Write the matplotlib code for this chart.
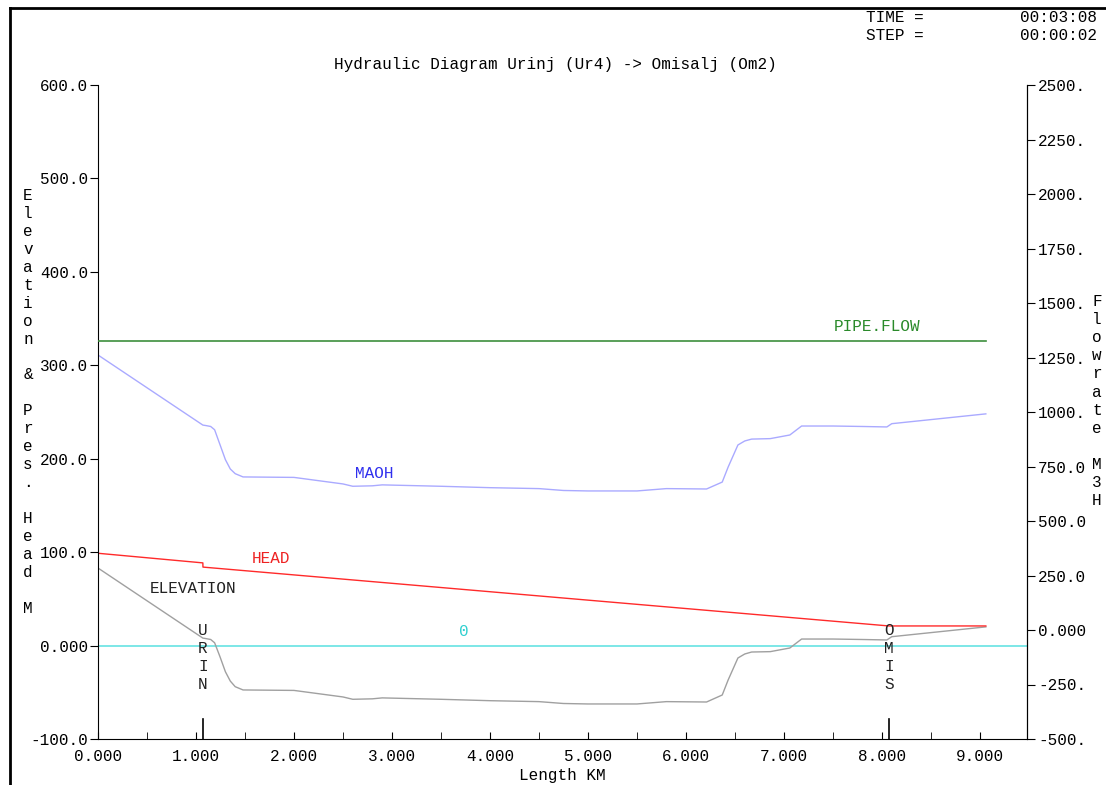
import matplotlib.pyplot as plt
from matplotlib.lines import Line2D

plt.rcParams['font.family'] = ['Liberation Mono', 'DejaVu Sans Mono']

# distance along the pipeline, km
elev_km = [0.0, 1.07, 1.1, 1.15, 1.19, 1.245, 1.30, 1.35, 1.40, 1.48, 2.0, 2.5, 2.6,
           2.8, 2.9, 3.5, 4.0, 4.5, 4.75, 5.0, 5.5, 5.8, 6.21, 6.37, 6.43, 6.53, 6.60,
           6.67, 6.86, 7.06, 7.18, 7.5, 7.8, 8.05, 8.1, 9.06]
elevation = [83, 8, 7.5, 6.5, 3, -12, -28, -38, -44, -47.5, -48, -55, -57.5,
             -57, -56, -57.5, -59, -60, -62, -62.5, -62.5, -60, -60.4, -52.9, -36.9,
             -13.3, -9, -6.9, -6.5, -2.6, 7, 7, 6.5, 6, 9.5, 20]

maoh_km = [0.0, 1.07, 1.1, 1.15, 1.19, 1.245, 1.30, 1.35, 1.40, 1.48, 2.0, 2.5, 2.6,
           2.8, 2.9, 3.5, 4.0, 4.5, 4.75, 5.0, 5.5, 5.8, 6.21, 6.37, 6.43, 6.53, 6.60,
           6.67, 6.86, 7.06, 7.18, 7.5, 7.8, 8.05, 8.1, 9.06]
maoh = [311, 236, 235.5, 234.5, 231, 215, 199, 189, 184, 180.5, 180, 173, 170.5,
        171, 172, 170.5, 169, 168, 166, 165.5, 165.5, 168, 167.6, 175, 191,
        214.7, 219, 221, 221.5, 225.4, 235, 235, 234.5, 234, 237.5, 248]

head_km = [0.0, 1.07, 1.071, 8.07, 9.06]
head = [98.8, 88.5, 84, 21, 21]

flow_km = [0.0, 9.06]
pipe_flow = [1325, 1325]

left_ticks = [600, 500, 400, 300, 200, 100, 0, -100]
left_labels = ['600.0', '500.0', '400.0', '300.0', '200.0', '100.0', '0.000', '-100.0']
right_ticks = [2500, 2250, 2000, 1750, 1500, 1250, 1000, 750, 500, 250, 0, -250, -500]
right_labels = ['2500.', '2250.', '2000.', '1750.', '1500.', '1250.', '1000.', '750.0',
                '500.0', '250.0', '0.000', '-250.', '-500.']
x_ticks = [0, 1, 2, 3, 4, 5, 6, 7, 8, 9]
x_labels = ['0.000', '1.000', '2.000', '3.000', '4.000', '5.000', '6.000', '7.000',
            '8.000', '9.000']

stations = [1.07, 8.07]
station_names = ['URIN', 'OMIS']

fs = 11.5
fig = plt.figure(figsize=(11.06, 7.85), dpi=100)
ax = fig.add_axes([98 / 1106, 1 - 739 / 785, (1027 - 98) / 1106, (739 - 85) / 785])
ax2 = ax.twinx()

ax.set_xlim(0, 9.48)
ax.set_ylim(-100, 600)
ax2.set_ylim(-500, 2500)

ax.axhline(0, color='#66e3e3', lw=1.2)
ax.plot(elev_km, elevation, color='#a0a0a0', lw=1)
ax.plot(maoh_km, maoh, color='#aaaaff', lw=1)
ax.plot(head_km, head, color='#ff2a2a', lw=1)
ax2.plot(flow_km, pipe_flow, color='#3d8f3d', lw=1.2)

# station markers
for km, name in zip(stations, station_names):
    ax.plot([km, km], [-100, -78.5], color='black', lw=1.2)
    ax.text(km, 24.5, '\n'.join(name), ha='center', va='top', fontsize=fs,
            linespacing=1.26, color='#222222')

ax.text(0.97, 61, 'ELEVATION', ha='center', va='center', fontsize=fs, color='#222222')
ax.text(1.77, 93, 'HEAD', ha='center', va='center', fontsize=fs, color='#ee2222')
ax.text(2.82, 184, 'MAOH', ha='center', va='center', fontsize=fs, color='#3030ee')
ax.text(3.73, 15, '0', ha='center', va='center', fontsize=fs, color='#30d0d0')
ax2.text(7.95, 1390, 'PIPE.FLOW', ha='center', va='center', fontsize=fs, color='#2a8a2a')

ax.set_xticks(x_ticks)
ax.set_xticklabels(x_labels, fontsize=fs)
ax.set_xticks([0.5 + i for i in range(9)], minor=True)
ax.tick_params(axis='x', which='both', direction='in', length=5, pad=7)
ax.set_yticks(left_ticks)
ax.set_yticklabels(left_labels, fontsize=fs)
ax.tick_params(axis='y', direction='out', length=6, pad=1)
ax2.set_yticks(right_ticks)
ax2.set_yticklabels(right_labels, fontsize=fs)
ax2.tick_params(axis='y', direction='out', length=6, pad=2)

for a in (ax, ax2):
    a.spines['top'].set_visible(False)
ax2.spines['left'].set_visible(False)
ax2.spines['bottom'].set_visible(False)

ax.set_xlabel('Length KM', fontsize=fs, labelpad=3)

fig.text(555 / 1106, 1 - 64 / 785, 'Hydraulic Diagram Urinj (Ur4) -> Omisalj (Om2)',
         ha='center', va='center', fontsize=fs)
fig.text(866 / 1106, 1 - 17 / 785, 'TIME =', ha='left', va='center', fontsize=fs)
fig.text(866 / 1106, 1 - 35 / 785, 'STEP =', ha='left', va='center', fontsize=fs)
fig.text(1097 / 1106, 1 - 17 / 785, '00:03:08', ha='right', va='center', fontsize=fs)
fig.text(1097 / 1106, 1 - 35 / 785, '00:00:02', ha='right', va='center', fontsize=fs)

fig.text(28 / 1106, 1 - 188 / 785, '\n'.join('Elevation & Pres. Head M'),
         ha='center', va='top', fontsize=fs, linespacing=1.245)
fig.text(1097 / 1106, 1 - 294 / 785, '\n'.join('Flowrate M3H'),
         ha='center', va='top', fontsize=fs, linespacing=1.26)

# page border
fig.add_artist(Line2D([10 / 1106, 10 / 1106], [0, 1 - 8 / 785], color='black', lw=2))
fig.add_artist(Line2D([10 / 1106, 1], [1 - 8 / 785, 1 - 8 / 785], color='black', lw=2))

fig.savefig('out.png', dpi=100)
